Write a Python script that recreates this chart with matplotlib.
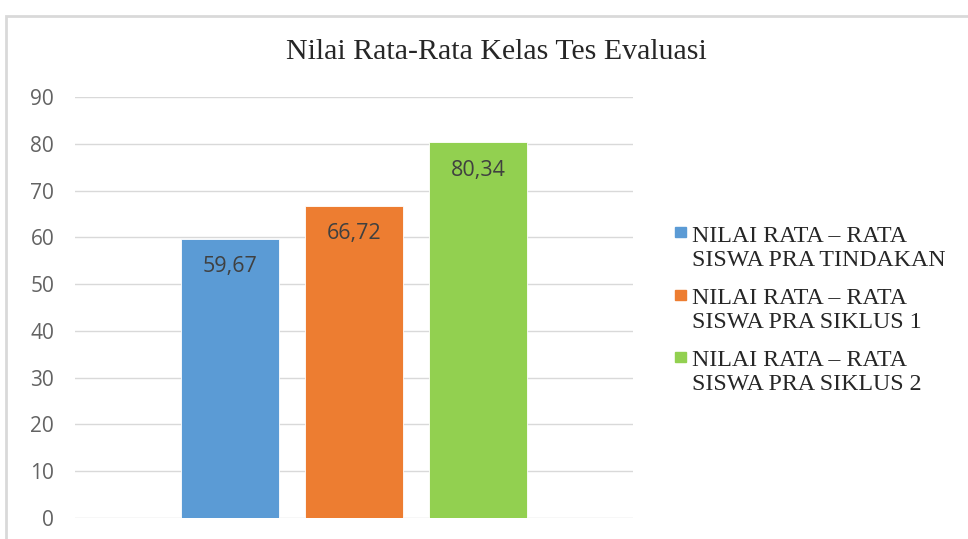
import matplotlib.pyplot as plt
from matplotlib.patches import Rectangle

series = ["NILAI RATA \u2013 RATA\nSISWA PRA TINDAKAN",
          "NILAI RATA \u2013 RATA\nSISWA PRA SIKLUS 1",
          "NILAI RATA \u2013 RATA\nSISWA PRA SIKLUS 2"]
values = [59.67, 66.72, 80.34]
labels = ["59,67", "66,72", "80,34"]
colors = ["#5B9BD5", "#ED7D31", "#92D050"]

fig = plt.figure(figsize=(9.68, 5.39), dpi=100)
W, H = 968, 539
# plot area in pixels
x0, x1 = 75, 633
y_top, y_bot = 97, 518
ax = fig.add_axes([x0 / W, 1 - y_bot / H, (x1 - x0) / W, (y_bot - y_top) / H])

# outer chart border
fig.patches.append(Rectangle((6 / W, -0.1), 1.1, 1 - 16 / H + 0.1, transform=fig.transFigure,
                             fill=False, edgecolor="#D9D9D9", linewidth=2, clip_on=False))

pos = [-1, 0, 1]
for p, v, c, s in zip(pos, values, colors, series):
    ax.bar(p, v, width=0.785, color=c, edgecolor="white", linewidth=0.6, label=s, zorder=3)

for p, v, t in zip(pos, values, labels):
    ax.text(p, v - 6.0, t, ha="center", va="center", fontsize=15.5, color="#404040",
            family="Open Sans", zorder=4)

ax.set_xlim(-2.25, 2.25)
ax.set_ylim(0, 90)
ax.set_yticks(range(0, 91, 10))
ax.set_xticks([])
ax.grid(axis="y", color="#D9D9D9", linewidth=1, zorder=0)
for sp in ax.spines.values():
    sp.set_visible(False)
ax.tick_params(axis="y", length=0, pad=15, labelsize=15, labelcolor="#636363")
for lab in ax.get_yticklabels():
    lab.set_family("Open Sans")

fig.text(496 / W, 1 - 52 / H, "Nilai Rata-Rata Kelas Tes Evaluasi", ha="center", va="center",
         fontsize=21.5, family="Liberation Serif", color="#262626")

# legend drawn by hand so the marker sits on the first line of each label
leg_top = 236
leg_step = 62.5
line_gap = 24
for i, (s, c) in enumerate(zip(series, colors)):
    yc = leg_top + i * leg_step
    fig.patches.append(Rectangle((675 / W, 1 - (yc + 1) / H), 11 / W, 10 / H,
                                 transform=fig.transFigure, color=c))
    for j, line in enumerate(s.split("\n")):
        fig.text(692 / W, 1 - (yc + j * line_gap) / H, line, ha="left", va="center",
                 fontsize=17.2, family="Liberation Serif", color="#262626")

fig.savefig("out.png", dpi=100)
